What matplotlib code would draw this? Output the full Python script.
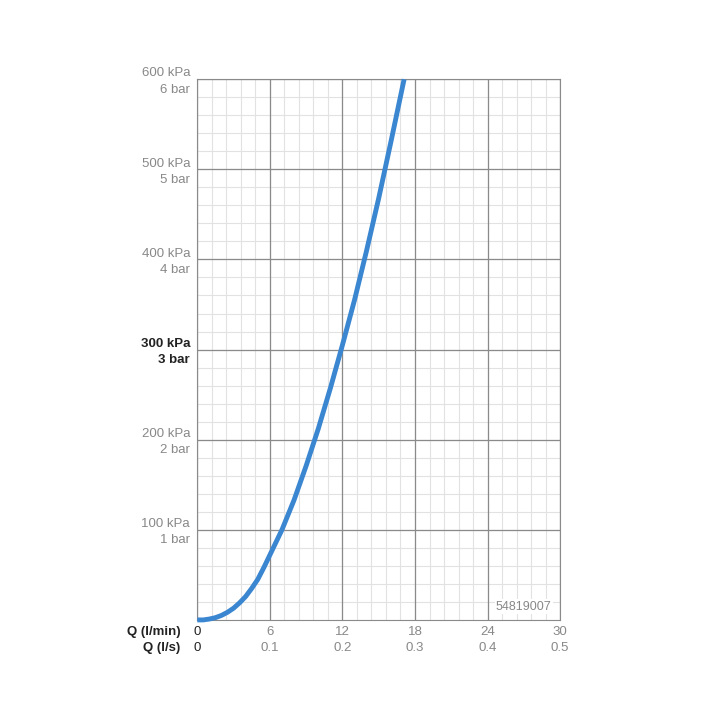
import matplotlib
matplotlib.use("Agg")
import matplotlib.pyplot as plt
import numpy as np

plt.rcParams['font.family'] = ['Liberation Sans', 'DejaVu Sans']

flow = [0, 0.5, 1, 1.5, 2, 2.5, 3, 3.5, 4, 4.5, 5, 5.5, 6, 7, 8, 9, 10, 11, 12, 13, 14, 15, 16, 17.1]
pressure = [0, 0, 1, 2.5, 5, 8.5, 13, 19, 26, 35, 45, 58, 72, 100, 133, 171, 212, 257, 305, 355, 410, 468, 530, 600]
x_ticks = [0, 6, 12, 18, 24, 30]
x_ls = ["0", "0.1", "0.2", "0.3", "0.4", "0.5"]
y_ticks = [100, 200, 300, 400, 500, 600]
y_labels = ["100 kPa\n1 bar", "200 kPa\n2 bar", "300 kPa\n3 bar", "400 kPa\n4 bar", "500 kPa\n5 bar", "600 kPa\n6 bar"]

fig = plt.figure(figsize=(7.2, 7.2), dpi=100)
ax = fig.add_axes([0.274, 0.139, 0.504, 0.751])
ax.set_xlim(0, 30)
ax.set_ylim(0, 600)
for v in np.arange(0, 30.01, 1.2):
    ax.axvline(v, color="#e2e2e2", lw=0.8, zorder=0)
for v in np.arange(0, 600.1, 20):
    ax.axhline(v, color="#e2e2e2", lw=0.8, zorder=0)
for v in x_ticks:
    ax.axvline(v, color="#8a8a8a", lw=0.9, zorder=1)
for v in y_ticks:
    ax.axhline(v, color="#8a8a8a", lw=0.9, zorder=1)
for s in ax.spines.values():
    s.set_color("#8a8a8a")
ax.plot(flow, pressure, color="#3a86d0", lw=3.5, solid_capstyle="butt", solid_joinstyle="round",
        zorder=3, clip_on=False)
ax.set_xticks([]); ax.set_yticks([])
for v, l in zip(y_ticks, y_labels):
    ax.text(-0.6, v + 13, l, ha="right", va="top", fontsize=9.5, color="#222" if v == 300 else "#888",
            fontweight="bold" if v == 300 else "normal", linespacing=1.45)
for v, l in zip(x_ticks, x_ls):
    ax.text(v, -7, str(v), ha="center", va="top", fontsize=9.5, color="#222" if v == 0 else "#888")
    ax.text(v, -25, l, ha="center", va="top", fontsize=9.5, color="#222" if v == 0 else "#888")
ax.text(-1.4, -7, "Q (l/min)", ha="right", va="top", fontsize=9.5, fontweight="bold", color="#222")
ax.text(-1.4, -25, "Q (l/s)", ha="right", va="top", fontsize=9.5, fontweight="bold", color="#222")
ax.text(29.3, 8, "54819007", ha="right", va="bottom", fontsize=9, color="#888",
        bbox=dict(facecolor="white", edgecolor="none", pad=1))
fig.savefig("out.png", dpi=100, facecolor="white")
